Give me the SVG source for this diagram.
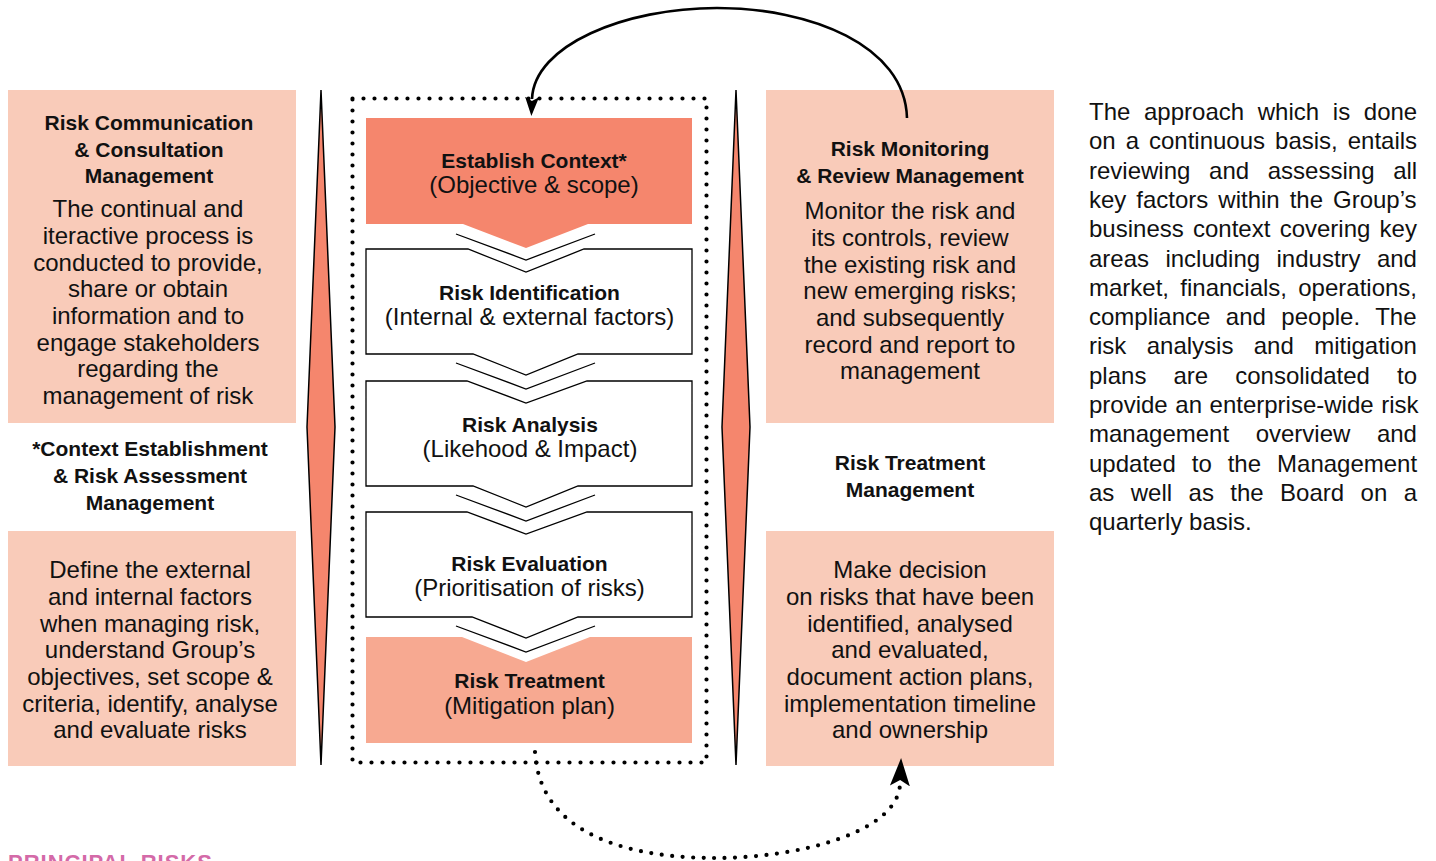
<svg xmlns="http://www.w3.org/2000/svg" width="1436" height="861" viewBox="0 0 1436 861">
<style>
text{font-family:"Liberation Sans",Arial,Helvetica,sans-serif;fill:#111}
.b{font-weight:bold;font-size:21px;text-anchor:middle}
.r{font-size:24px;text-anchor:middle}
.p{font-size:24px;text-anchor:start}
.light{fill:#f9cbb9}
.dia{fill:#f5866d;stroke:#000;stroke-width:1.5;stroke-linejoin:miter}
.step{fill:#fff;stroke:#000;stroke-width:1.3}
.vline{fill:none;stroke:#000;stroke-width:1.3}
.dots{fill:none;stroke:#000;stroke-width:4.2;stroke-linecap:round;stroke-dasharray:0 11}
.dotc{fill:none;stroke:#000;stroke-width:4.2;stroke-linecap:round;stroke-dasharray:0 10.5}
.solid{fill:none;stroke:#000;stroke-width:2.6}
.title{font-weight:bold;font-size:22px;letter-spacing:1px;fill:#d46aa8}
</style>
<defs>
<marker id="ahSmall" markerUnits="userSpaceOnUse" markerWidth="20" markerHeight="16" refX="2" refY="8" orient="auto" viewBox="0 0 20 16">
<path d="M0,1 L19,8 L0,15 L4,8 Z" fill="#000"/>
</marker>
<marker id="ahBig" markerUnits="userSpaceOnUse" markerWidth="30" markerHeight="22" refX="2" refY="11" orient="auto" viewBox="0 0 30 22">
<path d="M0,1 L28,11 L0,21 L6,11 Z" fill="#000"/>
</marker>
</defs>

<g id="comm-box">
<rect class="light" x="8" y="90" width="288" height="333"/>
<text class="b" x="149" y="130">Risk Communication</text>
<text class="b" x="149" y="156.5">&amp; Consultation</text>
<text class="b" x="149" y="183">Management</text>
<text class="r" x="148" y="217.3">The continual and</text>
<text class="r" x="148" y="244">iteractive process is</text>
<text class="r" x="148" y="270.7">conducted to provide,</text>
<text class="r" x="148" y="297.4">share or obtain</text>
<text class="r" x="148" y="324">information and to</text>
<text class="r" x="148" y="350.7">engage stakeholders</text>
<text class="r" x="148" y="377.4">regarding the</text>
<text class="r" x="148" y="404">management of risk</text>
</g>

<g id="context-label">
<text class="b" x="150" y="456">*Context Establishment</text>
<text class="b" x="150" y="483">&amp; Risk Assessment</text>
<text class="b" x="150" y="510">Management</text>
</g>

<g id="context-box">
<rect class="light" x="8" y="531" width="288" height="235"/>
<text class="r" x="150" y="578.3">Define the external</text>
<text class="r" x="150" y="605">and internal factors</text>
<text class="r" x="150" y="631.7">when managing risk,</text>
<text class="r" x="150" y="658.4">understand Group’s</text>
<text class="r" x="150" y="685">objectives, set scope &amp;</text>
<text class="r" x="150" y="711.7">criteria, identify, analyse</text>
<text class="r" x="150" y="738.4">and evaluate risks</text>
</g>

<g id="left-diamond">
<polygon class="dia" points="321,90 335,427 321,765 307,427"/>
</g>
<g id="right-diamond">
<polygon class="dia" points="736,90 750,427 736,765 722,427"/>
</g>

<g id="process-frame">
<path class="dots" d="M352.5,98.5 H706.5 V762.5 H352.5 Z"/>
</g>

<g id="establish-context">
<polygon fill="#f5866d" points="366,118 692,118 692,224 588,224 526,248 463,224 366,224"/>
<text class="b" x="534" y="167.5">Establish Context*</text>
<text class="r" x="534" y="193.3">(Objective &amp; scope)</text>
</g>

<g id="risk-identification">
<polygon class="step" points="366,249 468,249 526,272 584,249 692,249 692,354 578,354 526,375 473,354 366,354"/>
<text class="b" x="529.5" y="299.5">Risk Identification</text>
<text class="r" x="529.5" y="325.3">(Internal &amp; external factors)</text>
</g>

<g id="risk-analysis">
<polygon class="step" points="366,381 467,381 526,403 587,381 692,381 692,486 578,486 526,507 473,486 366,486"/>
<text class="b" x="530" y="431.5">Risk Analysis</text>
<text class="r" x="530" y="457.3">(Likehood &amp; Impact)</text>
</g>

<g id="risk-evaluation">
<polygon class="step" points="366,512 467,512 526,534 587,512 692,512 692,617 578,617 526,638 472,617 366,617"/>
<text class="b" x="529.5" y="570.5">Risk Evaluation</text>
<text class="r" x="529.5" y="596.3">(Prioritisation of risks)</text>
</g>

<g id="risk-treatment">
<polygon fill="#f7a991" points="366,637 462,637 526,662 590,637 692,637 692,743 366,743"/>
<text class="b" x="529.5" y="688">Risk Treatment</text>
<text class="r" x="529.5" y="714">(Mitigation plan)</text>
</g>

<g id="monitoring-box">
<rect class="light" x="766" y="90" width="288" height="333"/>
<text class="b" x="910" y="156">Risk Monitoring</text>
<text class="b" x="910" y="182.5">&amp; Review Management</text>
<text class="r" x="910" y="219.3">Monitor the risk and</text>
<text class="r" x="910" y="246">its controls, review</text>
<text class="r" x="910" y="272.7">the existing risk and</text>
<text class="r" x="910" y="299.4">new emerging risks;</text>
<text class="r" x="910" y="326">and subsequently</text>
<text class="r" x="910" y="352.7">record and report to</text>
<text class="r" x="910" y="379.4">management</text>
</g>

<g id="treatment-label">
<text class="b" x="910" y="470">Risk Treatment</text>
<text class="b" x="910" y="496.7">Management</text>
</g>

<g id="treatment-box">
<rect class="light" x="766" y="531" width="288" height="235"/>
<text class="r" x="910" y="578.3">Make decision</text>
<text class="r" x="910" y="605">on risks that have been</text>
<text class="r" x="910" y="631.7">identified, analysed</text>
<text class="r" x="910" y="658.4">and evaluated,</text>
<text class="r" x="910" y="685">document action plans,</text>
<text class="r" x="910" y="711.7">implementation timeline</text>
<text class="r" x="910" y="738.4">and ownership</text>
</g>

<g id="description">
<text class="p" x="1089" y="120" style="word-spacing:7px">The approach which is done</text>
<text class="p" x="1089" y="149.3" style="word-spacing:3.3px">on a continuous basis, entails</text>
<text class="p" x="1089" y="178.6" style="word-spacing:12px">reviewing and assessing all</text>
<text class="p" x="1089" y="207.9" style="word-spacing:3.3px">key factors within the Group’s</text>
<text class="p" x="1089" y="237.2" style="word-spacing:2.6px">business context covering key</text>
<text class="p" x="1089" y="266.5" style="word-spacing:9.7px">areas including industry and</text>
<text class="p" x="1089" y="295.8" style="word-spacing:4.6px">market, financials, operations,</text>
<text class="p" x="1089" y="325.1" style="word-spacing:8.8px">compliance and people. The</text>
<text class="p" x="1089" y="354.4" style="word-spacing:13.7px">risk analysis and mitigation</text>
<text class="p" x="1089" y="383.7" style="word-spacing:20.4px">plans are consolidated to</text>
<text class="p" x="1089" y="413" style="word-spacing:0.9px">provide an enterprise-wide risk</text>
<text class="p" x="1089" y="442.3" style="word-spacing:19.9px">management overview and</text>
<text class="p" x="1089" y="471.6" style="word-spacing:9.3px">updated to the Management</text>
<text class="p" x="1089" y="500.9" style="word-spacing:9.75px">as well as the Board on a</text>
<text class="p" x="1089" y="530.2">quarterly basis.</text>
</g>

<g id="connectors">
<polyline class="vline" points="456,234 526,260 595,234"/>
<polyline class="vline" points="456,363 526,389 595,363"/>
<polyline class="vline" points="456,495 526,521 595,495"/>
<polyline class="vline" points="456,626 526,652 595,626"/>
<path class="solid" d="M907,118 C905,45 810,8 717,8 C625,8 534,45 532,99" marker-end="url(#ahSmall)"/>
<path class="dotc" d="M535,752 C540,840 640,858 715,858 C800,858 898,832 900,784" marker-end="url(#ahBig)"/>
</g>

<g id="footer">
<text class="title" x="8" y="870">PRINCIPAL RISKS</text>
</g>
</svg>
